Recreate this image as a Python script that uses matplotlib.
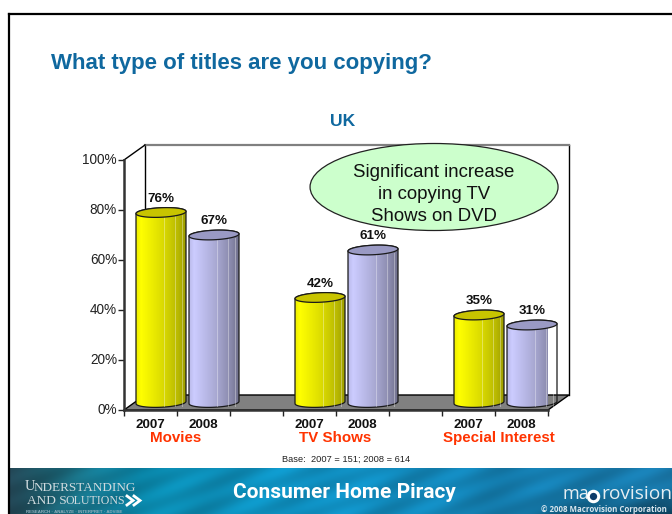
import numpy as np
import matplotlib
matplotlib.use("Agg")
import matplotlib.pyplot as plt
from matplotlib.colors import LinearSegmentedColormap
from matplotlib.patches import Ellipse, PathPatch, Polygon
from matplotlib.path import Path

categories = ["Movies", "TV Shows", "Special Interest"]
years = ["2007", "2008"]
values_2007 = [76, 42, 35]
values_2008 = [67, 61, 31]
y_ticks = [0, 20, 40, 60, 80, 100]

W, H = 672, 514
plt.rcParams["font.family"] = ["Liberation Sans", "DejaVu Sans"]
fig = plt.figure(figsize=(W / 100, H / 100), dpi=100, facecolor="white")


def rect(x0, y0, x1, y1):
    return [x0 / W, 1 - y1 / H, (x1 - x0) / W, (y1 - y0) / H]


# ---- slide frame ----
fig.add_artist(plt.Line2D([8.5 / W, 8.5 / W], [0, 1 - 14 / H], color="black", lw=1.6))
fig.add_artist(plt.Line2D([8.5 / W, 1], [1 - 14 / H, 1 - 14 / H], color="black", lw=1.6))
fig.text(51 / W, 1 - 64 / H, "What type of titles are you copying?", color="#0f689f",
         fontsize=16.0, fontweight="bold", va="center", ha="left")
fig.text(343 / W, 1 - 121 / H, "UK", color="#0f689f", fontsize=12.6, fontweight="bold",
         va="center", ha="center")
fig.text(346 / W, 1 - 459 / H, "Base:  2007 = 151; 2008 = 614", color="#222222",
         fontsize=6.7, va="center", ha="center")

# ---- chart: 8 slots wide, 0-100 percent high ----
ax = fig.add_axes(rect(124, 160, 548, 410))
ax.set_xlim(0, 8)
ax.set_ylim(0, 100)
ax.patch.set_alpha(0)
DX = 21 / 53   # depth of the box, in slots
DY = 6.0       # depth of the box, in percent

# back walls
ax.add_patch(Polygon([(DX, DY), (DX, 100 + DY), (8 + DX, 100 + DY), (8 + DX, DY)],
                     closed=True, fc="white", ec="none", clip_on=False, zorder=0))
ax.plot([DX, DX], [DY, 100 + DY], color="black", lw=1.0, clip_on=False, zorder=1)
ax.plot([8 + DX, 8 + DX], [DY, 100 + DY], color="black", lw=1.0, clip_on=False, zorder=1)
ax.plot([DX, 8 + DX], [100 + DY, 100 + DY], color="#808080", lw=1.6, clip_on=False, zorder=1)
ax.plot([0, DX], [100, 100 + DY], color="black", lw=1.0, clip_on=False, zorder=1)
# floor
ax.add_patch(Polygon([(0, 0), (DX, DY), (8 + DX, DY), (8, 0)], closed=True, fc="#808080",
                     ec="black", lw=1.0, clip_on=False, zorder=1))

cmap_2007 = LinearSegmentedColormap.from_list(
    "y", [(0, "#eded00"), (0.1, "#ffff00"), (0.55, "#dada00"), (0.85, "#b8b800"), (1, "#9c9c00")])
cmap_2008 = LinearSegmentedColormap.from_list(
    "l", [(0, "#b9b9e8"), (0.1, "#ccccff"), (0.55, "#a8a8d2"), (0.85, "#8888aa"), (1, "#70708c")])
HALF_W = 25 / 53
B = 1.9
TILT = 0.45


def rim(cx, cy, t):
    return cx + HALF_W * np.cos(t), cy + B * np.sin(t) + TILT * np.cos(t)


def cylinder(cx, v, cmap, top_color):
    y0, y1 = DY / 2, v + DY / 2
    t_low = np.linspace(np.pi, 2 * np.pi, 40)
    t_up = np.linspace(0, np.pi, 40)
    t_all = np.linspace(0, 2 * np.pi, 80)
    xb, yb = rim(cx, y0, t_low)
    xt, yt = rim(cx, y1, t_up)
    verts = np.vstack([np.c_[xb, yb], np.c_[xt, yt], [[xb[0], yb[0]]]])
    body = Path(verts)
    grad = np.linspace(0, 1, 256).reshape(1, -1)
    im = ax.imshow(grad, cmap=cmap, extent=[cx - HALF_W, cx + HALF_W, y0 - B, y1 + B],
                   aspect="auto", zorder=3, interpolation="bilinear")
    patch = PathPatch(body, fc="none", ec="#1a1a1a", lw=0.9, clip_on=False, zorder=4)
    ax.add_patch(patch)
    im.set_clip_path(patch)
    for f in (0.56, 0.77, 0.92):
        xl = cx + HALF_W * (2 * f - 1)
        ax.plot([xl, xl], [y0 - B * 0.8, y1 - B * 0.6], color="white", alpha=0.35, lw=0.7,
                clip_on=False, zorder=4)
    xe, ye = rim(cx, y1, t_all)
    ax.add_patch(Polygon(np.c_[xe, ye], closed=True, fc=top_color, ec="#1a1a1a", lw=0.9,
                         clip_on=False, zorder=5))
    ax.annotate(f"{v}%", (cx, y1), xytext=(0, 10), textcoords="offset points", ha="center",
                va="center", fontsize=9.6, fontweight="bold", color="#111111",
                annotation_clip=False, zorder=6)


year_positions, year_labels, cat_centers = [], [], []
for i, (v07, v08) in enumerate(zip(values_2007, values_2008)):
    s = 3 * i
    cylinder(s + 0.5 + DX / 2, v07, cmap_2007, "#c8c400")
    cylinder(s + 1.5 + DX / 2, v08, cmap_2008, "#9a9ac4")
    year_positions += [s + 0.5, s + 1.5]
    year_labels += years
    cat_centers.append(s + 1)
ax.set_xlim(0, 8)
ax.set_ylim(0, 100)

# axes
for side in ("top", "right"):
    ax.spines[side].set_visible(False)
for side in ("left", "bottom"):
    ax.spines[side].set_linewidth(1.8)
    ax.spines[side].set_color("#333333")
    ax.spines[side].set_zorder(2)
ax.set_yticks(y_ticks)
ax.set_yticklabels([f"{v}%" for v in y_ticks], fontsize=9.8, color="#222222", va="center")
ax.tick_params(axis="y", length=4, width=1.0, color="#222222", pad=1)
ax.set_xticks(np.arange(0, 9), minor=True)
ax.set_xticks(year_positions)
ax.set_xticklabels(year_labels, fontsize=9.6, fontweight="bold", color="#111111")
ax.tick_params(axis="x", which="major", length=0, pad=6.5)
ax.tick_params(axis="x", which="minor", length=4, width=1.0, color="#222222")

cat_nudge = [-0.03, -0.02, 0.08]
for c, name, n in zip(cat_centers, categories, cat_nudge):
    ax.annotate(name, (c + n, 0), xytext=(0, -20), textcoords="offset points", ha="center",
                va="center", fontsize=10.9, fontweight="bold", color="#ff3300",
                annotation_clip=False)

# callout
ax.add_patch(Ellipse((5.85, 89.2), 248 / 53, 87 / 2.5, fc="#ccffcc", ec="#222222", lw=0.9,
                     clip_on=False, zorder=7))
for line, yy in zip(["Significant increase", "in copying TV", "Shows on DVD"], [95.0, 86.2, 77.4]):
    ax.text(5.85, yy, line, ha="center", va="center", fontsize=13.4, color="#111111",
            clip_on=False, zorder=8)

# ---- footer banner ----
bx = fig.add_axes(rect(9, 468, 672, 514))
bx.set_xlim(9, 672)
bx.set_ylim(514, 468)
bx.set_axis_off()
xx, yy_ = np.meshgrid(np.linspace(0, 1, 663), np.linspace(0, 1, 46))
anchors_x = [0, 0.04, 0.1, 0.2, 0.45, 0.75, 1]
anchors_r = [35, 30, 25, 10, 15, 20, 25]
anchors_g = [70, 85, 110, 135, 145, 125, 120]
anchors_b = [85, 100, 130, 170, 195, 175, 170]
r = np.interp(xx, anchors_x, anchors_r)
g = np.interp(xx, anchors_x, anchors_g)
b = np.interp(xx, anchors_x, anchors_b)
sheen = 1 + 0.10 * np.sin((xx * 9 + yy_ * 1.2) * 6.3) * np.sin(yy_ * 5 + xx * 11)
dark = 1 - 0.45 * np.clip((yy_ - 0.45) / 0.55, 0, 1) * np.clip((xx - 0.7) / 0.3, 0, 1)
img = np.clip(np.dstack([r, g, b]) * (sheen * dark)[..., None], 0, 255).astype(np.uint8)
bx.imshow(img, extent=[9, 672, 514, 468], aspect="auto", interpolation="bilinear")

bk = dict(ha="left", va="center", family="Liberation Serif", color="#cfdade", clip_on=False)
bx.text(25, 487, "U", fontsize=10.5, **bk)
bx.text(34, 488, "NDERSTANDING", fontsize=9.5, **bk)
bx.text(27, 501.5, "AND S", fontsize=9.6, **bk)
bx.text(65, 501.5, "OLUTIONS", fontsize=8.6, **bk)
for offset in (0, 7):
    bx.plot([127 + offset, 133 + offset, 127 + offset], [496, 500.5, 505], color="white",
            lw=2.0, clip_on=False, solid_joinstyle="miter")
bx.text(26, 512, "RESEARCH · ANALYZE · INTERPRET · ADVISE", fontsize=3.2, color="#8fb0bd",
        fontweight="bold", ha="left", va="center")
bx.text(344, 493, "Consumer Home Piracy", fontsize=15.0, fontweight="bold", color="white",
        ha="center", va="center", family="Roboto")
bx.text(563, 494, "ma", fontsize=13, color="#e6eef2", ha="left", va="center", family="Open Sans")
bx.plot([593], [495.5], "o", ms=7.5, mfc="#0d3c6a", mec="white", mew=2.2, clip_on=False)
bx.text(601, 494, "rovision", fontsize=13.8, color="#e6eef2", ha="left", va="center",
        family="Open Sans", clip_on=True)
bx.text(667, 509, "© 2008 Macrovision Corporation", fontsize=5.7, fontweight="bold",
        color="#d8e6ee", ha="right", va="center", family="Open Sans")

fig.savefig("out.png", dpi=100, facecolor="white")
